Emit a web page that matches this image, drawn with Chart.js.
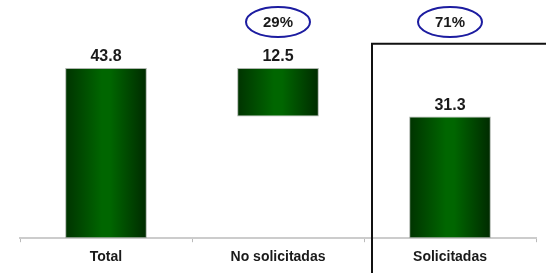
<!DOCTYPE html>
<html>
<head>
<meta charset="utf-8">
<script src="https://cdn.jsdelivr.net/npm/chart.js@4"></script>
<style>
  html, body { margin: 0; padding: 0; background: #fff; }
  #wrap { width: 546px; height: 273px; }
</style>
</head>
<body>
<div id="wrap"><canvas id="solicChart"></canvas></div>
<script>
// datos
const categories = ['Total', 'No solicitadas', 'Solicitadas'];
const totalValue = 43.8;
const noSolicitadas = 12.5;
const solicitadas = 31.3;
const barLabels = ['43.8', '12.5', '31.3'];
const shareLabels = ['', '29%', '71%'];

// barras flotantes (cascada)
const ranges = [
    [0, totalValue],
    [solicitadas, solicitadas + noSolicitadas],
    [0, solicitadas]
];

const barPct = 0.95;
const catPct = 0.5;

function barGradient(context) {
    const chart = context.chart;
    const xs = chart.scales.x;
    if (!xs || !chart.chartArea) return '#005500';
    const cx = xs.getPixelForValue(context.dataIndex);
    const half = (xs.width / categories.length) * barPct * catPct / 2;
    const g = chart.ctx.createLinearGradient(cx - half, 0, cx + half, 0);
    g.addColorStop(0, '#003300');
    g.addColorStop(0.45, '#006600');
    g.addColorStop(0.55, '#006600');
    g.addColorStop(1, '#002a00');
    return g;
}

const decorPlugin = {
    id: 'decor',
    afterDatasetsDraw(chart) {
        const ctx = chart.ctx;
        const xs = chart.scales.x;
        const ys = chart.scales.y;
        const meta = chart.getDatasetMeta(0);

        ctx.save();
        // etiquetas de valor
        ctx.font = 'bold 16px "Liberation Sans", Arial, sans-serif';
        ctx.fillStyle = '#1a1a1a';
        ctx.textAlign = 'center';
        ctx.textBaseline = 'bottom';
        meta.data.forEach((bar, i) => {
            ctx.fillText(barLabels[i], bar.x, bar.y - 3);
        });

        // porcentajes en elipses
        ctx.font = 'bold 15px "Liberation Sans", Arial, sans-serif';
        ctx.textBaseline = 'middle';
        shareLabels.forEach((s, i) => {
            if (!s) return;
            const x = xs.getPixelForValue(i);
            const y = chart.chartArea.top + 17;
            ctx.beginPath();
            ctx.ellipse(x, y, 32, 15, 0, 0, Math.PI * 2);
            ctx.strokeStyle = '#1c1ca0';
            ctx.lineWidth = 2;
            ctx.stroke();
            ctx.fillStyle = '#1a1a1a';
            ctx.fillText(s, x, y + 1);
        });

        // recuadro de Solicitadas
        const left = xs.getPixelForValue(1.5) + 8;
        const top = ys.getPixelForValue(50);
        ctx.beginPath();
        ctx.moveTo(left, chart.height + 5);
        ctx.lineTo(left, top);
        ctx.lineTo(chart.width + 5, top);
        ctx.strokeStyle = '#111';
        ctx.lineWidth = 2;
        ctx.stroke();
        ctx.restore();
    }
};

const ctx = document.getElementById('solicChart').getContext('2d');
const solicChart = new Chart(ctx, {
    type: 'bar',
    data: {
        labels: categories,
        datasets: [{
            data: ranges,
            backgroundColor: barGradient,
            borderColor: 'rgba(140, 150, 140, 0.7)',
            borderWidth: 1,
            borderSkipped: false,
            barPercentage: barPct,
            categoryPercentage: catPct
        }]
    },
    options: {
        responsive: true,
        maintainAspectRatio: false,
        animation: false,
        layout: { padding: { left: 20, right: 10, top: 5, bottom: 0 } },
        plugins: {
            legend: { display: false },
            tooltip: { enabled: false }
        },
        scales: {
            y: {
                display: false,
                min: 0,
                max: 60
            },
            x: {
                border: { display: true, color: '#cccccc', width: 2 },
                grid: {
                    display: true,
                    drawOnChartArea: false,
                    drawTicks: true,
                    tickLength: 4,
                    color: '#bbbbbb',
                    offset: true
                },
                ticks: {
                    padding: 7,
                    color: '#1a1a1a',
                    font: { family: '"Liberation Sans", Arial, sans-serif', size: 14, weight: 'bold' }
                }
            }
        }
    },
    plugins: [decorPlugin]
});
</script>
</body>
</html>
